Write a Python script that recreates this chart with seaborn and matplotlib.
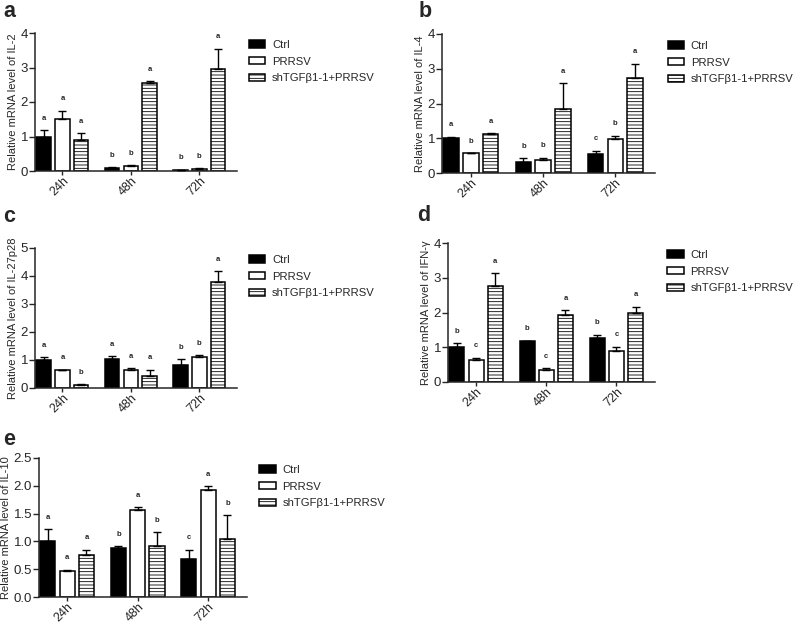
import numpy as np
import pandas as pd
import seaborn as sns
import matplotlib.pyplot as plt

times = ['24h', '48h', '72h']
groups = ['Ctrl', 'PRRSV', 'shTGFβ1-1+PRRSV']

# rows = time points, columns = groups (Ctrl, PRRSV, shTGF)
il2_mean = [[1.00, 1.50, 0.90], [0.10, 0.15, 2.55], [0.03, 0.06, 2.97]]
il2_err = [[0.18, 0.25, 0.20], [0.02, 0.02, 0.05], [0.01, 0.02, 0.58]]
il2_sig = [['a', 'a', 'a'], ['b', 'b', 'a'], ['b', 'b', 'a']]

il4_mean = [[1.00, 0.57, 1.12], [0.32, 0.38, 1.83], [0.56, 0.97, 2.73]]
il4_err = [[0.05, 0.01, 0.03], [0.10, 0.06, 0.75], [0.08, 0.10, 0.42]]
il4_sig = [['a', 'b', 'a'], ['b', 'b', 'a'], ['c', 'b', 'a']]

il27_mean = [[1.00, 0.65, 0.12], [1.02, 0.65, 0.43], [0.83, 1.12, 3.78]]
il27_err = [[0.10, 0.00, 0.01], [0.12, 0.07, 0.23], [0.20, 0.05, 0.40]]
il27_sig = [['a', 'a', 'b'], ['a', 'a', 'a'], ['b', 'b', 'a']]

ifn_mean = [[1.00, 0.62, 2.76], [1.17, 0.35, 1.93], [1.26, 0.90, 2.00]]
ifn_err = [[0.11, 0.08, 0.37], [0.02, 0.04, 0.14], [0.10, 0.12, 0.17]]
ifn_sig = [['b', 'c', 'a'], ['b', 'c', 'a'], ['b', 'c', 'a']]

il10_mean = [[1.00, 0.46, 0.75], [0.88, 1.56, 0.92], [0.68, 1.93, 1.05]]
il10_err = [[0.22, 0.03, 0.10], [0.03, 0.05, 0.25], [0.17, 0.06, 0.42]]
il10_sig = [['a', 'a', 'a'], ['b', 'a', 'b'], ['c', 'a', 'b']]

sns.set_style('ticks')
plt.rcParams['font.family'] = ['Liberation Sans', 'DejaVu Sans']
plt.rcParams['hatch.linewidth'] = 0.6


def panel(ax, mean, err, sig, ylab, ymax, ystep, fmt='%d'):
    rows = []
    for i, t in enumerate(times):
        for j, g in enumerate(groups):
            rows.append({'time': t, 'group': g, 'val': mean[i][j],
                         'err': err[i][j], 'sig': sig[i][j]})
    df = pd.DataFrame(rows)
    sns.barplot(data=df, x='time', y='val', hue='group', hue_order=groups,
                palette=['black', 'white', 'white'], edgecolor='black',
                linewidth=1.1, errorbar=None, width=0.82, gap=0.22,
                ax=ax, legend=False)
    bars = list(ax.containers)
    for j, cont in enumerate(bars):
        sub = df[df['group'] == groups[j]]
        for bar, e, s in zip(cont, sub['err'], sub['sig']):
            if j == 2:
                bar.set_hatch('-----')
            x = bar.get_x() + bar.get_width() / 2
            h = bar.get_height()
            ax.errorbar(x, h, yerr=[[0], [e]], fmt='none', ecolor='black',
                        elinewidth=1, capsize=3, capthick=1, zorder=3)
            ax.annotate(s, (x, h + e), xytext=(0, 6), textcoords='offset points',
                        ha='center', va='bottom', fontsize=5.5, fontweight='bold')
    ax.set_ylim(0, ymax)
    ax.set_yticks(np.arange(0, ymax + ystep / 2, ystep))
    ax.yaxis.set_major_formatter(plt.FormatStrFormatter(fmt))
    ax.set_xlim(-0.4, 2.55)
    ax.set_xlabel('')
    ax.set_ylabel(ylab, fontsize=8, labelpad=2)
    ax.tick_params(axis='y', labelsize=9.5, length=4, width=1, pad=1)
    ax.tick_params(axis='x', labelsize=9, length=3, width=1, pad=0)
    for lbl in ax.get_xticklabels():
        lbl.set_rotation(45)
        lbl.set_ha('right')
        lbl.set_rotation_mode('anchor')
    sns.despine(ax=ax)
    for sp in ['left', 'bottom']:
        ax.spines[sp].set_linewidth(1.1)
    handles = [bars[j][0] for j in range(3)]
    ax.legend(handles, groups, loc='upper left', bbox_to_anchor=(1.06, 0.95),
              frameon=False, fontsize=8.1, handlelength=1.45, handleheight=0.6,
              handletextpad=0.6, labelspacing=0.6, borderpad=0, borderaxespad=0)


fig = plt.figure(figsize=(7.95, 6.24), dpi=100)
W, H = 795, 624


def add_axes(l, r, t, b):
    return fig.add_axes([l / W, 1 - b / H, (r - l) / W, (b - t) / H])


ax_a = add_axes(35, 237, 33, 171)
ax_b = add_axes(442, 655, 34, 173)
ax_c = add_axes(35, 237, 248, 388)
ax_d = add_axes(448, 655, 243, 382)
ax_e = add_axes(39, 247, 458, 597)

panel(ax_a, il2_mean, il2_err, il2_sig, 'Relative mRNA level of IL-2', 4, 1)
panel(ax_b, il4_mean, il4_err, il4_sig, 'Relative mRNA level of IL-4', 4, 1)
panel(ax_c, il27_mean, il27_err, il27_sig, 'Relative mRNA level of IL-27p28', 5, 1)
panel(ax_d, ifn_mean, ifn_err, ifn_sig, 'Relative mRNA level of IFN-γ', 4, 1)
panel(ax_e, il10_mean, il10_err, il10_sig, 'Relative mRNA level of IL-10', 2.5, 0.5, '%.1f')

for lab, x, y in [('a', 3, 17), ('b', 419, 17), ('c', 3, 222), ('d', 417, 221), ('e', 3, 445)]:
    fig.text(x / W, 1 - y / H, lab, fontsize=15.5, fontweight='bold', va='baseline')

fig.savefig('out.png', dpi=100)
